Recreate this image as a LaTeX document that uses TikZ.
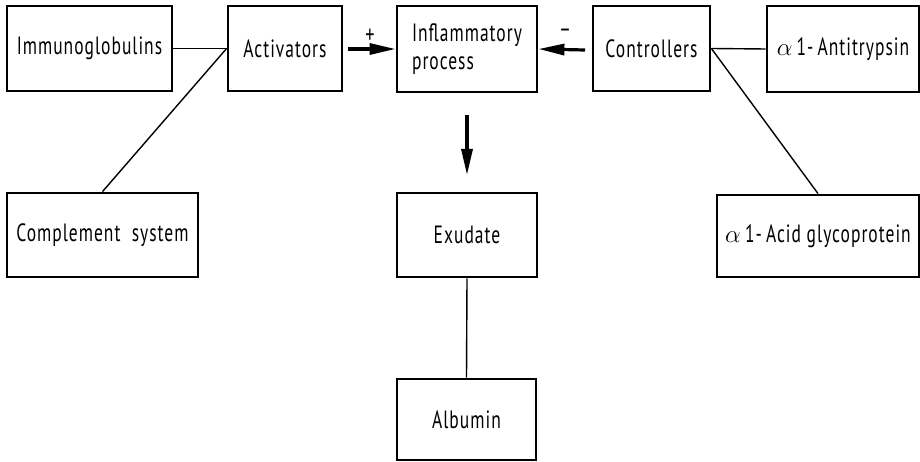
\documentclass[tikz,border=0pt]{standalone}
\usepackage{fontspec}
\setmainfont[FakeStretch=0.7,LetterSpace=4]{PT Sans}
\usetikzlibrary{arrows.meta}
\tikzset{
  box/.style={draw, line width=2.8pt, inner sep=0pt, font=\fontsize{25}{28}\selectfont},
  link/.style={line width=1.4pt},
  push/.style={line width=3.2pt, -{Triangle[length=26pt,width=11pt]}},
  sign/.style={font=\fontsize{26}{28}\selectfont, inner sep=0pt}
}
\begin{document}
\begin{tikzpicture}[x=1pt,y=-1pt]
\useasboundingbox (0,0) rectangle (920,462);
\node[box, minimum width=165pt, minimum height=85pt] (imm) at (89.5,48.5) {Immunoglobulins};
\node[box, minimum width=114pt, minimum height=85pt] (act) at (285,48.5) {Activators};
\node[box, minimum width=140pt, minimum height=86pt, align=left] (infl) at (467,49) {Inflammatory\\process};
\node[box, minimum width=117pt, minimum height=85pt] (ctrl) at (651.5,48.5) {Controllers};
\node[box, minimum width=152pt, minimum height=86pt] (anti) at (843,49) {$\alpha$\,1-\,Antitrypsin};
\node[box, minimum width=191pt, minimum height=84pt] (comp) at (102.5,235) {Complement\ \ system};
\node[box, minimum width=140pt, minimum height=84pt] (exu) at (467,235) {Exudate};
\node[box, minimum width=139pt, minimum height=81pt] (alb) at (466.5,419.5) {Albumin};
\node[box, minimum width=202pt, minimum height=82pt] (acid) at (818,236) {$\alpha$\,1-\,Acid\ glycoprotein};

\coordinate (plusstart) at (348,49);
\coordinate (minusstart) at (585,50);
\coordinate (downstart) at (467,115);
\coordinate (downend) at (467,175);

\draw[link] (imm.east) -- (act.west);
\draw[link] (act.west) -- (comp.north);
\draw[link] (ctrl.east) -- (anti.west);
\draw[link] (ctrl.east) -- (acid.north);
\draw[link] (exu.south) -- (alb.north);

\draw[push] (plusstart) -- (infl.west);
\draw[push] (minusstart) -- (infl.east);
\draw[push] (downstart) -- (downend);

\node[sign] (plus) at (370,36) {+};
\node[sign] (minus) at (565,33) {\textendash};
\end{tikzpicture}
\end{document}
